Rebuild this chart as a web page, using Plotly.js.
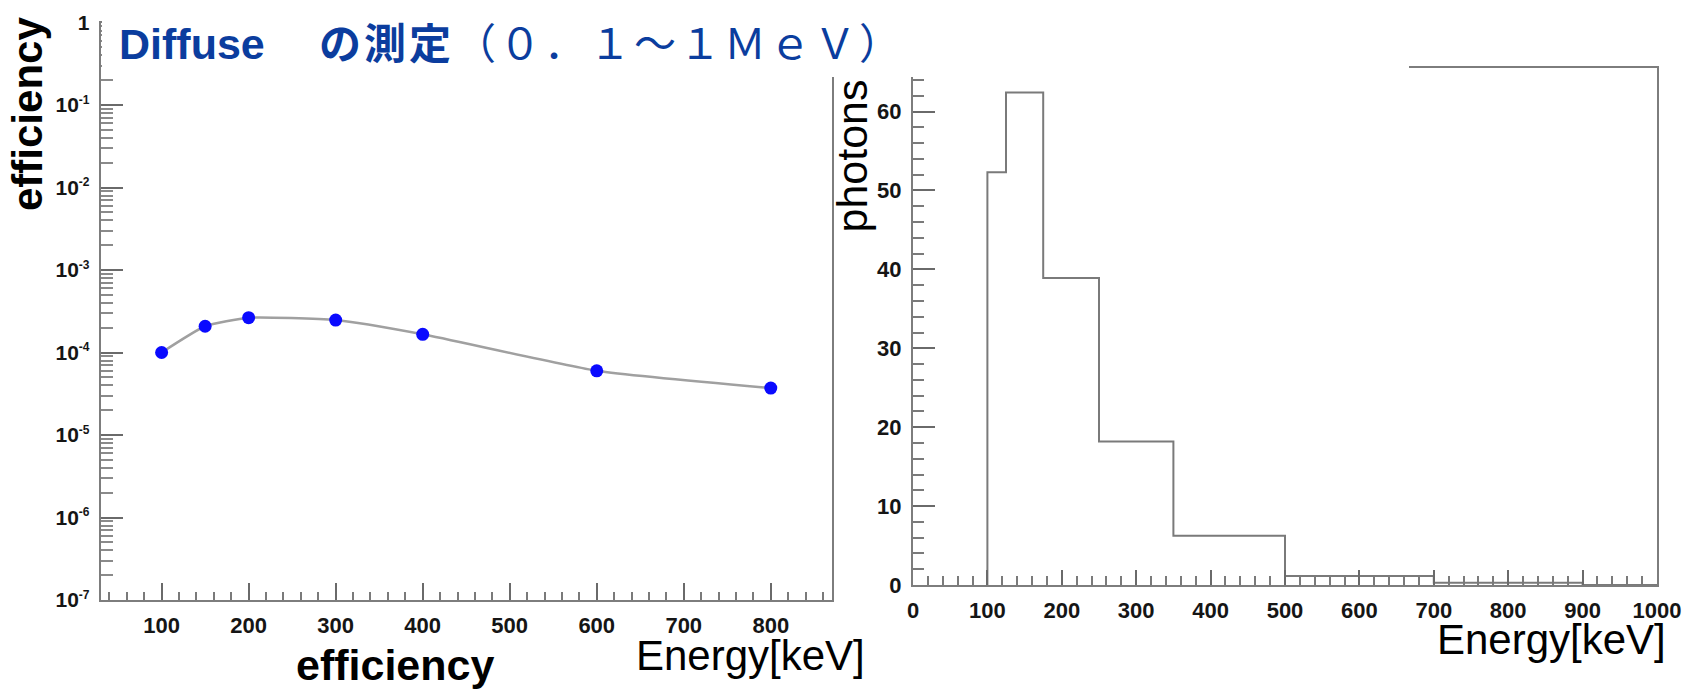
<!DOCTYPE html>
<html>
<head>
<meta charset="utf-8">
<script src="https://cdn.plot.ly/plotly-3.0.1.min.js"></script>
<style>
  html, body { margin: 0; padding: 0; background: #fff; }
  #chart { width: 1697px; height: 689px; }
</style>
</head>
<body>
<div id="chart"></div>
<script>
// Detection efficiency versus photon energy (keV)
const effEnergy = [100, 150, 200, 300, 400, 600, 800];
const effValue  = [1.0e-4, 2.08e-4, 2.64e-4, 2.47e-4, 1.66e-4, 6.0e-5, 3.7e-5];

// Decade exponents labelled on the efficiency axis
const effDecades = [-7, -6, -5, -4, -3, -2, -1, 0];

// Expected photon counts in variable-width energy bins (keV)
const binEdges  = [100, 125, 175, 250, 350, 500, 700, 900, 1000];
const binCounts = [52.3, 62.4, 38.9, 18.2, 6.25, 1.14, 0.3, 0];

const titleLatin = 'Diffuse';
const titleJapanese = '<b>の測定</b>（０．１～１ＭｅＶ）';

// Page geometry helpers (pixel -> paper fraction)
const W = 1697, H = 689;
const px = v => v / W;
const py = v => 1 - v / H;

// Step outline of the spectrum, closed down to zero at the first edge
const histX = [binEdges[0]];
const histY = [0];
binCounts.forEach((c, i) => { histX.push(binEdges[i]); histY.push(c); });
histX.push(binEdges[binEdges.length - 1]);
histY.push(binCounts[binCounts.length - 1]);

// Graph x range padded by 10% on each side; histogram top at 105% of max
const effSpan = Math.max(...effEnergy) - Math.min(...effEnergy);
const effRange = [Math.min(...effEnergy) - 0.1 * effSpan, Math.max(...effEnergy) + 0.1 * effSpan];
const histMax = Math.max(...binCounts) * 1.05;

// Log-axis labels: "1" for 10^0, otherwise 10 with a small exponent
const effTickVals = effDecades.map(e => Math.pow(10, e));
const effTickText = effDecades.map(e =>
  e === 0 ? '1' : '10<sup><span style="font-size:12px">' + e + '</span></sup>');

const tickFont = { family: 'Liberation Sans, Arial, sans-serif', size: 22, weight: 'bold', color: '#151515' };
const axisBase = {
  showgrid: false, zeroline: false, showline: true, mirror: true,
  linecolor: '#7d7d7d', linewidth: 2,
  ticks: 'inside', tickwidth: 2, tickcolor: '#6a6a6a',
  tickfont: tickFont, ticklabelstandoff: 5
};

const traces = [
  {
    x: effEnergy, y: effValue, xaxis: 'x', yaxis: 'y',
    type: 'scatter', mode: 'lines+markers',
    line: { color: '#a0a0a0', width: 2.5, shape: 'spline', smoothing: 0.5 },
    marker: { color: '#0a0aff', size: 13, symbol: 'circle' },
    hoverinfo: 'x+y'
  },
  {
    x: histX, y: histY, xaxis: 'x2', yaxis: 'y2',
    type: 'scatter', mode: 'lines',
    line: { color: '#7a7a7a', width: 2, shape: 'hv' },
    hoverinfo: 'x+y'
  }
];

const labelFont = (size, color) => ({ family: 'Liberation Sans, Arial, sans-serif', size: size, color: color || '#000' });

const layout = {
  width: W, height: H,
  margin: { l: 0, r: 0, t: 0, b: 0 },
  paper_bgcolor: '#ffffff', plot_bgcolor: '#ffffff',
  showlegend: false,
  xaxis: Object.assign({}, axisBase, {
    domain: [px(100.7), px(831.7)], anchor: 'y',
    range: effRange, tickmode: 'linear', tick0: 0, dtick: 100, ticklen: 17,
    minor: { ticks: 'inside', tick0: 0, dtick: 20, ticklen: 8, tickwidth: 2, tickcolor: '#7a7a7a', showgrid: false }
  }),
  yaxis: Object.assign({}, axisBase, {
    domain: [py(600), py(22.5)], anchor: 'x',
    type: 'log', range: [-7, 0], tickmode: 'array',
    tickvals: effTickVals, ticktext: effTickText, ticklen: 22,
    tickfont: Object.assign({}, tickFont, { size: 21 }),
    minor: { ticks: 'inside', dtick: 'D1', ticklen: 12, tickwidth: 2, tickcolor: '#8a8a8a', showgrid: false }
  }),
  xaxis2: Object.assign({}, axisBase, {
    domain: [px(913), px(1657)], anchor: 'y2',
    range: [0, 1000], tickmode: 'linear', tick0: 0, dtick: 100, ticklen: 15,
    minor: { ticks: 'inside', tick0: 0, dtick: 20, ticklen: 9, tickwidth: 2, tickcolor: '#7a7a7a', showgrid: false }
  }),
  yaxis2: Object.assign({}, axisBase, {
    domain: [py(585), py(68)], anchor: 'x2',
    range: [0, histMax], tickmode: 'linear', tick0: 0, dtick: 10, ticklen: 22,
    minor: { ticks: 'inside', tick0: 0, dtick: 2, ticklen: 11, tickwidth: 2, tickcolor: '#7a7a7a', showgrid: false }
  }),
  shapes: [
    // white heading band laid over the top of both frames
    { type: 'rect', xref: 'paper', yref: 'paper', layer: 'above',
      x0: px(102), x1: px(1409), y0: py(77), y1: 1.01,
      fillcolor: '#ffffff', line: { width: 0 } }
  ],
  annotations: [
    { text: '<b>' + titleLatin + '</b>', xref: 'paper', yref: 'paper', x: px(117), y: py(44),
      xanchor: 'left', yanchor: 'middle', showarrow: false,
      font: labelFont(43, '#0b3d9e') },
    { text: '<span style="letter-spacing:3px">' + titleJapanese + '</span>',
      xref: 'paper', yref: 'paper', x: px(317), y: py(44),
      xanchor: 'left', yanchor: 'middle', showarrow: false,
      font: { family: 'Liberation Sans, Noto Sans CJK JP, sans-serif', size: 42, color: '#0b3d9e' } },
    { text: '<b>efficiency</b>', xref: 'paper', yref: 'paper', x: px(27), y: py(114),
      xanchor: 'center', yanchor: 'middle', textangle: -90, showarrow: false,
      font: labelFont(42) },
    { text: '<b>efficiency</b>', xref: 'paper', yref: 'paper', x: px(395), y: py(665),
      xanchor: 'center', yanchor: 'middle', showarrow: false,
      font: labelFont(43) },
    { text: 'Energy[keV]', xref: 'paper', yref: 'paper', x: px(867), y: py(655),
      xanchor: 'right', yanchor: 'middle', showarrow: false,
      font: labelFont(42) },
    { text: 'Energy[keV]', xref: 'paper', yref: 'paper', x: px(1668), y: py(639),
      xanchor: 'right', yanchor: 'middle', showarrow: false,
      font: labelFont(42) },
    { text: 'photons', xref: 'paper', yref: 'paper', x: px(851), y: py(77),
      xanchor: 'center', yanchor: 'top', textangle: -90, showarrow: false,
      font: labelFont(43) }
  ]
};

Plotly.newPlot('chart', traces, layout, { staticPlot: true, displayModeBar: false });
</script>
</body>
</html>
